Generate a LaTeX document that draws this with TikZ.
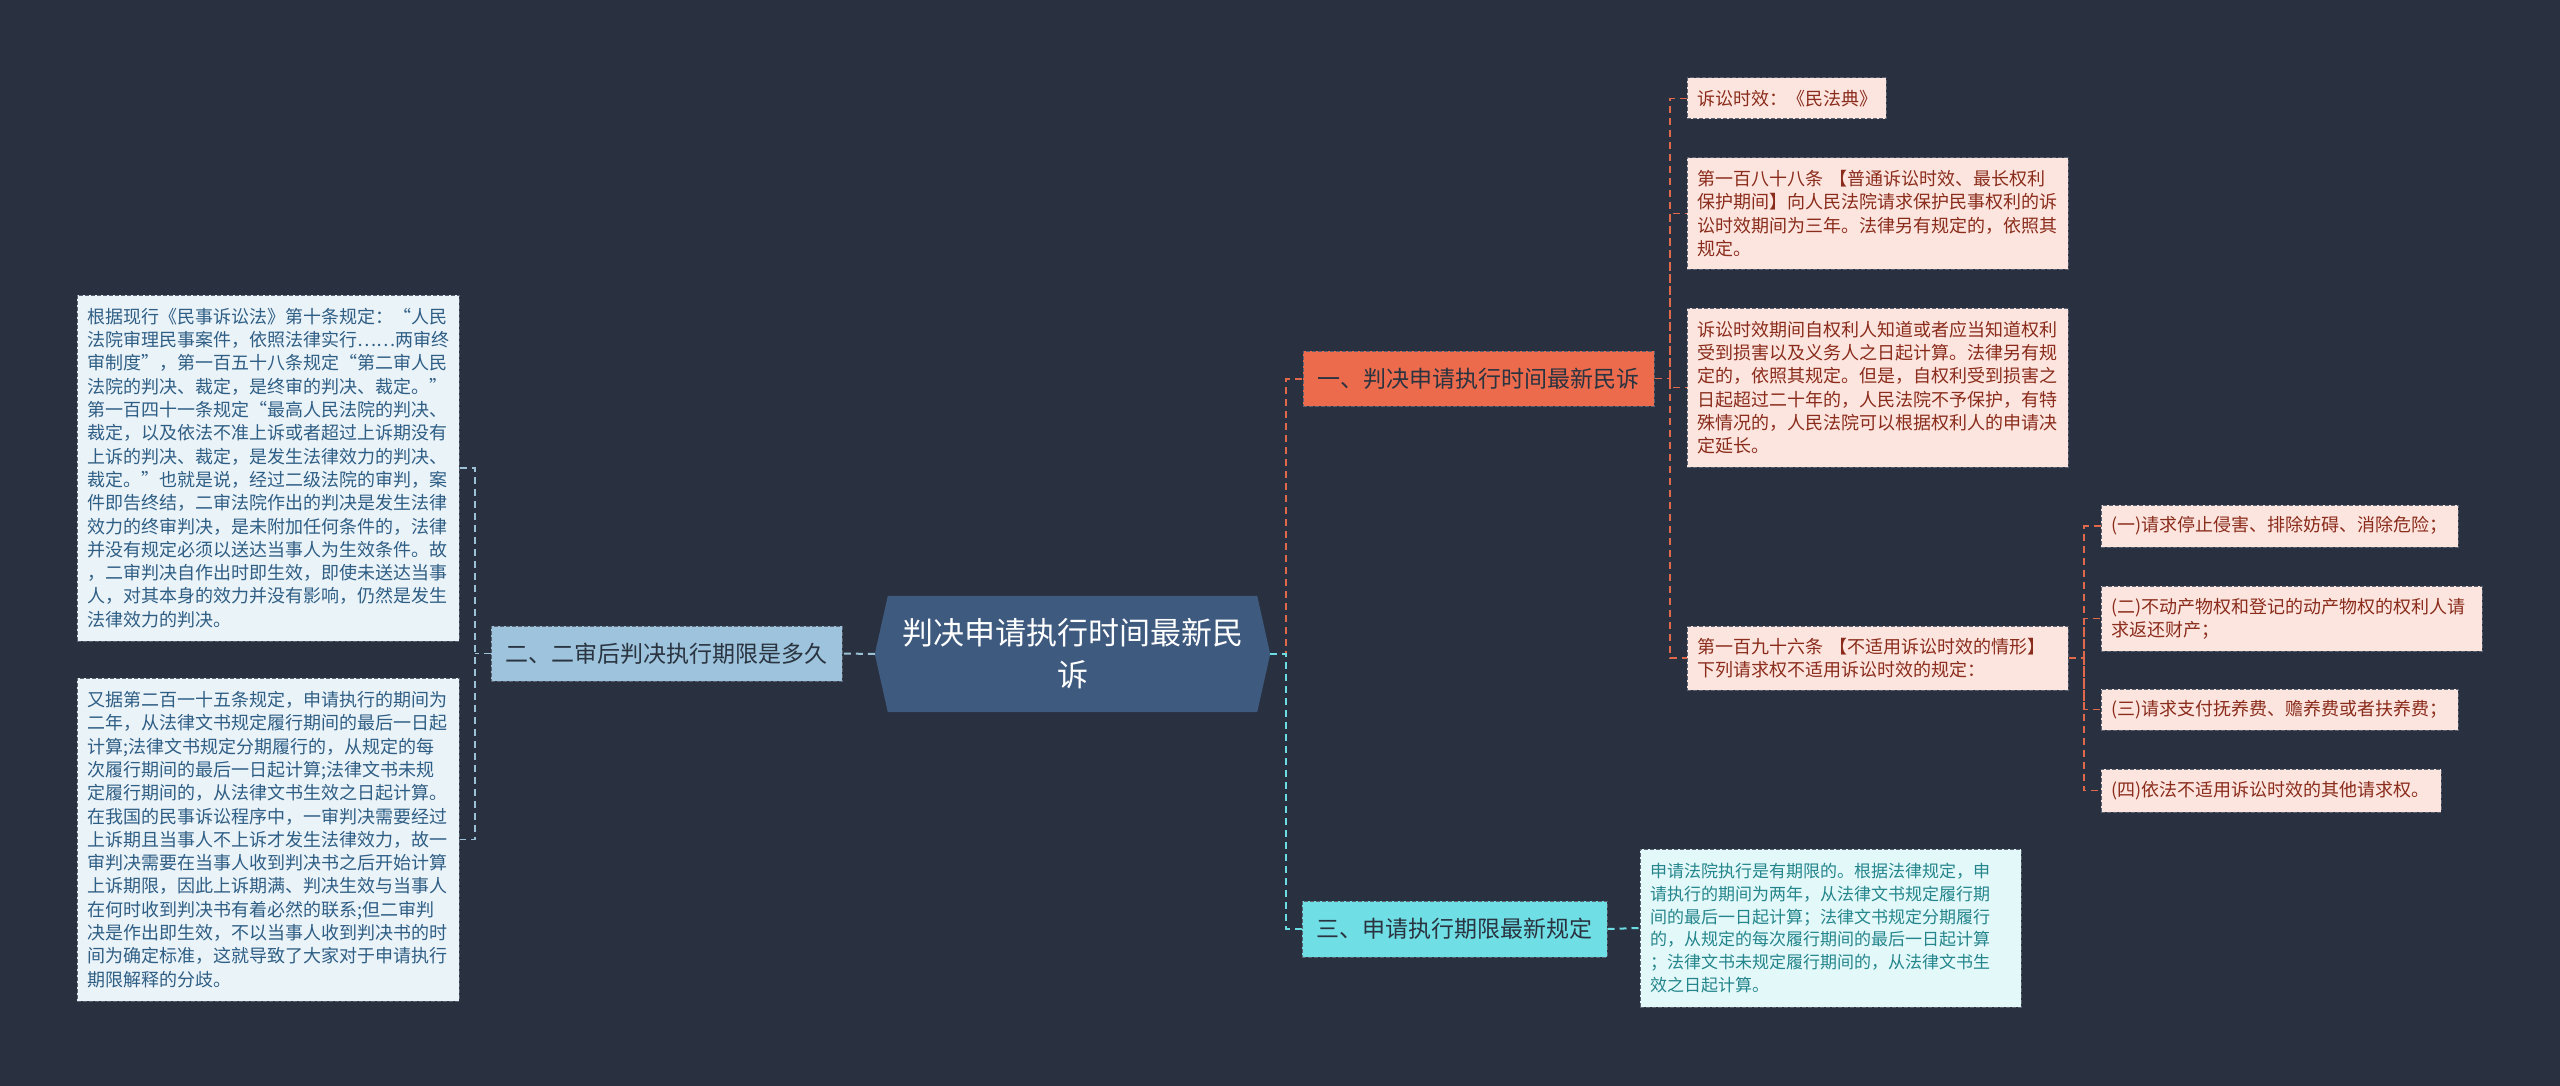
\documentclass[tikz,border=0pt]{standalone}
\usepackage{fontspec}
\newfontfamily\cjk{Noto Sans CJK SC}
\usetikzlibrary{calc}
\pgfdeclarelayer{background}
\pgfsetlayers{background,main}
\definecolor{bg}{HTML}{29303F}
\definecolor{hexfill}{HTML}{3E5A7F}
\definecolor{bluebr}{HTML}{9DC4DC}
\definecolor{bluelf}{HTML}{EAF3F8}
\definecolor{bluetx}{HTML}{2F5E85}
\definecolor{orgbr}{HTML}{EC6B4C}
\definecolor{orglf}{HTML}{FDE5DF}
\definecolor{orgtx}{HTML}{8A2C1B}
\definecolor{cyanbr}{HTML}{6FDFE5}
\definecolor{cyanlf}{HTML}{E3F8F9}
\definecolor{cyantx}{HTML}{24868C}
\definecolor{darktx}{HTML}{2A3340}
\definecolor{bord}{HTML}{5A6170}
\definecolor{lnblue}{HTML}{9CC1D6}
\definecolor{lnorg}{HTML}{E0684B}
\definecolor{lncyan}{HTML}{6ADCE2}
\tikzset{
  box/.style={draw=bord, line width=1pt, dash pattern=on 4pt off 2pt, inner xsep=10pt, inner ysep=4pt, align=left},
  leaf/.style={box, font=\cjk\fontsize{18}{23.3}\selectfont},
  branch/.style={box, align=center, font=\cjk\fontsize{23}{28}\selectfont},
  conn/.style={line width=2pt, dash pattern=on 7pt off 5pt},
  sz/.code 2 args={\pgfmathsetmacro\mytw{#1-20}\edef\mytmp{\noexpand\tikzset{minimum width=#1pt, minimum height=#2pt, text width=\mytw pt}}\mytmp},
}
\begin{document}
\begin{tikzpicture}[x=1pt,y=-1pt]
\begin{pgfonlayer}{background}
\fill[bg] (0,0) rectangle (2560,1086);
\end{pgfonlayer}
\useasboundingbox (0,0) rectangle (2560,1086);

% center
\node[text=white, align=center, font=\cjk\fontsize{31}{42}\selectfont, minimum width=395pt, minimum height=116pt, inner sep=0pt] (c) at (1072.5,654) {判决申请执行时间最新民\\诉};
\begin{pgfonlayer}{background}
\fill[hexfill] (c.west) -- ($(c.north west)+(13,0)$) -- ($(c.north east)+(-13,0)$) -- (c.east) -- ($(c.south east)+(-13,0)$) -- ($(c.south west)+(13,0)$) -- cycle;
\end{pgfonlayer}

% left branch
\node[branch, fill=bluebr, text=darktx, sz={351}{55}] (b2) at (666.5,653.5) {二、二审后判决执行期限是多久};
\node[leaf, fill=bluelf, text=bluetx, sz={382}{346}] (l1) at (268,468) {根据现行《民事诉讼法》第十条规定：“人民\\法院审理民事案件，依照法律实行……两审终\\审制度”，第一百五十八条规定“第二审人民\\法院的判决、裁定，是终审的判决、裁定。”\\第一百四十一条规定“最高人民法院的判决、\\裁定，以及依法不准上诉或者超过上诉期没有\\上诉的判决、裁定，是发生法律效力的判决、\\裁定。”也就是说，经过二级法院的审判，案\\件即告终结，二审法院作出的判决是发生法律\\效力的终审判决，是未附加任何条件的，法律\\并没有规定必须以送达当事人为生效条件。故\\，二审判决自作出时即生效，即使未送达当事\\人，对其本身的效力并没有影响，仍然是发生\\法律效力的判决。};
\node[leaf, fill=bluelf, text=bluetx, sz={382}{323}] (l2) at (268,839.5) {又据第二百一十五条规定，申请执行的期间为\\二年，从法律文书规定履行期间的最后一日起\\计算;法律文书规定分期履行的，从规定的每\\次履行期间的最后一日起计算;法律文书未规\\定履行期间的，从法律文书生效之日起计算。\\在我国的民事诉讼程序中，一审判决需要经过\\上诉期且当事人不上诉才发生法律效力，故一\\审判决需要在当事人收到判决书之后开始计算\\上诉期限，因此上诉期满、判决生效与当事人\\在何时收到判决书有着必然的联系;但二审判\\决是作出即生效，不以当事人收到判决书的时\\间为确定标准，这就导致了大家对于申请执行\\期限解释的分歧。};

% right branch 1
\node[branch, fill=orgbr, text=darktx, sz={351}{55}] (b1) at (1478.5,378.5) {一、判决申请执行时间最新民诉};
\node[leaf, fill=orglf, text=orgtx, sz={199}{41}] (r1) at (1786.5,98.5) {诉讼时效：《民法典》};
\node[leaf, fill=orglf, text=orgtx, sz={381}{111}] (r2) at (1877.5,213.5) {第一百八十八条 【普通诉讼时效、最长权利\\保护期间】向人民法院请求保护民事权利的诉\\讼时效期间为三年。法律另有规定的，依照其\\规定。};
\node[leaf, fill=orglf, text=orgtx, sz={381}{159}] (r3) at (1877.5,387.5) {诉讼时效期间自权利人知道或者应当知道权利\\受到损害以及义务人之日起计算。法律另有规\\定的，依照其规定。但是，自权利受到损害之\\日起超过二十年的，人民法院不予保护，有特\\殊情况的，人民法院可以根据权利人的申请决\\定延长。};
\node[leaf, fill=orglf, text=orgtx, sz={381}{64}] (r4) at (1877.5,658) {第一百九十六条 【不适用诉讼时效的情形】\\下列请求权不适用诉讼时效的规定：};
\node[leaf, fill=orglf, text=orgtx, sz={357}{42}] (s1) at (2279.5,526) {(一)请求停止侵害、排除妨碍、消除危险；};
\node[leaf, fill=orglf, text=orgtx, sz={381}{65}] (s2) at (2291.5,618.5) {(二)不动产物权和登记的动产物权的权利人请\\求返还财产；};
\node[leaf, fill=orglf, text=orgtx, sz={357}{41}] (s3) at (2279.5,709.5) {(三)请求支付抚养费、赡养费或者扶养费；};
\node[leaf, fill=orglf, text=orgtx, sz={340}{43}] (s4) at (2271,790.5) {(四)依法不适用诉讼时效的其他请求权。};

% right branch 3
\node[branch, fill=cyanbr, text=darktx, sz={305}{56}] (b3) at (1454.5,929) {三、申请执行期限最新规定};
\node[box, fill=cyanlf, text=cyantx, font=\cjk\fontsize{17}{22.7}\selectfont, sz={381}{158}] (cl) at (1830.5,928) {申请法院执行是有期限的。根据法律规定，申\\请执行的期间为两年，从法律文书规定履行期\\间的最后一日起计算；法律文书规定分期履行\\的，从规定的每次履行期间的最后一日起计算\\；法律文书未规定履行期间的，从法律文书生\\效之日起计算。};

% connectors
\coordinate (lt) at (475,653.5);
\coordinate (rt) at (1286,654);
\coordinate (t1) at (1670,378.5);
\coordinate (t2) at (2084,658);

\draw[conn, lnblue] (c.west) -- (b2.east);
\draw[conn, lnblue, line width=1.5pt] (b2.west) -- (lt);
\draw[conn, lnblue, line width=1.5pt] (l1.east) -| (lt) |- (l2.east);

\draw[conn, lnorg] (c.east) -- (rt) |- (b1.west);
\draw[conn, lncyan] (c.east) -- (rt) |- (b3.west);

\draw[conn, lnorg, line width=1.5pt] (b1.east) -- (t1);
\draw[conn, lnorg, line width=1.5pt] (r1.west) -| (t1) |- (r4.west);
\draw[conn, lnorg, line width=1.5pt] (t1) |- (r2.west);
\draw[conn, lnorg, line width=1.5pt] (t1) |- (r3.west);

\draw[conn, lnorg, line width=1.5pt] (r4.east) -- (t2);
\draw[conn, lnorg, line width=1.5pt] (s1.west) -| (t2) |- (s4.west);
\draw[conn, lnorg, line width=1.5pt] (t2) |- (s2.west);
\draw[conn, lnorg, line width=1.5pt] (t2) |- (s3.west);

\draw[conn, lncyan] (b3.east) -- (cl.west);
\end{tikzpicture}
\end{document}
